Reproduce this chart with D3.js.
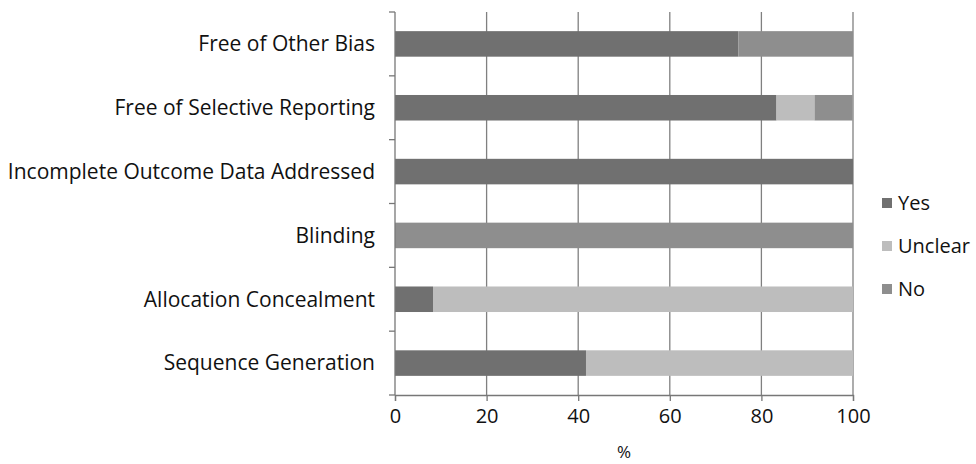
<!DOCTYPE html>
<html>
<head>
<meta charset="utf-8">
<script src="https://cdn.jsdelivr.net/npm/d3@7"></script>
<style>
  body { margin: 0; background: #fff; }
  text { font-family: "Open Sans", "Noto Sans", sans-serif; fill: #111; }
</style>
</head>
<body>
<script>
// bottom to top, as drawn
const categories = ["Sequence Generation", "Allocation Concealment", "Blinding",
                    "Incomplete Outcome Data Addressed", "Free of Selective Reporting", "Free of Other Bias"];
const yes     = [41.7, 8.3, 0, 100, 83.3, 75];
const unclear = [58.3, 91.7, 0, 0, 8.3, 0];
const no      = [0, 0, 100, 0, 8.3, 25];
const series = ["Yes", "Unclear", "No"];
const xTicks = [0, 20, 40, 60, 80, 100];

const w = 976, h = 464;
const plotLeft = 395, plotRight = 853, plotTop = 12, plotBottom = 395;

const colors = {Yes: "#707070", Unclear: "#bdbdbd", No: "#8e8e8e"};

const rows = categories.map((c, i) => ({cat: c, Yes: yes[i], Unclear: unclear[i], No: no[i]}));
const stacked = d3.stack().keys(series)(rows);

const svg = d3.select("body").append("svg")
  .attr("width", w)
  .attr("height", h);

const x = d3.scaleLinear().domain([0, 100]).range([plotLeft, plotRight]);
const y = d3.scaleBand().domain(categories.slice().reverse()).range([plotTop, plotBottom]).paddingInner(0.6).paddingOuter(0.3);
const yEdges = d3.scaleLinear().domain([0, categories.length]).range([plotTop, plotBottom]);

// vertical gridlines
svg.append("g")
  .selectAll("line")
  .data(xTicks.slice(1))
  .enter()
  .append("line")
  .attr("x1", d => x(d))
  .attr("x2", d => x(d))
  .attr("y1", plotTop)
  .attr("y2", plotBottom)
  .attr("stroke", "#808080")
  .attr("stroke-width", 1.3)

// bars
svg.append("g")
  .selectAll("g")
  .data(stacked)
  .enter()
  .append("g")
  .attr("fill", d => colors[d.key])
  .selectAll("rect")
  .data(d => d)
  .enter()
  .append("rect")
  .attr("x", d => x(d[0]))
  .attr("width", d => x(d[1]) - x(d[0]))
  .attr("y", d => y(d.data.cat))
  .attr("height", y.bandwidth())

// y axis with ticks at category boundaries
svg.append("line")
  .attr("x1", plotLeft).attr("x2", plotLeft)
  .attr("y1", plotTop).attr("y2", plotBottom)
  .attr("stroke", "#777").attr("stroke-width", 1.3)

svg.append("g")
  .selectAll("line")
  .data(d3.range(categories.length + 1))
  .enter()
  .append("line")
  .attr("x1", plotLeft - 6).attr("x2", plotLeft)
  .attr("y1", d => yEdges(d)).attr("y2", d => yEdges(d))
  .attr("stroke", "#777").attr("stroke-width", 1.3)

svg.append("g")
  .selectAll("text")
  .data(categories)
  .enter()
  .append("text")
  .attr("x", plotLeft - 20)
  .attr("y", d => y(d) + y.bandwidth() / 2)
  .attr("dy", "0.35em")
  .attr("text-anchor", "end")
  .style("font-size", "21px")
  .text(d => d)

// x axis
const xAxis = d3.axisBottom(x).tickValues(xTicks).tickSize(6).tickPadding(8).tickFormat(d3.format("d"));
const gx = svg.append("g")
  .attr("transform", "translate(0," + plotBottom + ")")
  .call(xAxis)
gx.select(".domain").attr("stroke", "#777").attr("stroke-width", 1.3)
gx.selectAll(".tick line").attr("stroke", "#777").attr("stroke-width", 1.3)
gx.selectAll(".tick text")
  .style("font-size", "20px")
  .style("font-family", "'Open Sans', 'Noto Sans', sans-serif")
  .attr("fill", "#111")

svg.append("text")
  .attr("x", (plotLeft + plotRight) / 2)
  .attr("y", 458)
  .attr("text-anchor", "middle")
  .style("font-size", "17px")
  .text("%")

// legend
const legend = svg.append("g")
  .selectAll("g")
  .data(series)
  .enter()
  .append("g")
  .attr("transform", (d, i) => "translate(882," + (203 + i * 43) + ")")
legend.append("rect")
  .attr("x", 0).attr("y", -5)
  .attr("width", 10).attr("height", 10)
  .attr("fill", d => colors[d])
legend.append("text")
  .attr("x", 16)
  .attr("dy", "0.35em")
  .style("font-size", "20px")
  .text(d => d)
</script>
</body>
</html>
